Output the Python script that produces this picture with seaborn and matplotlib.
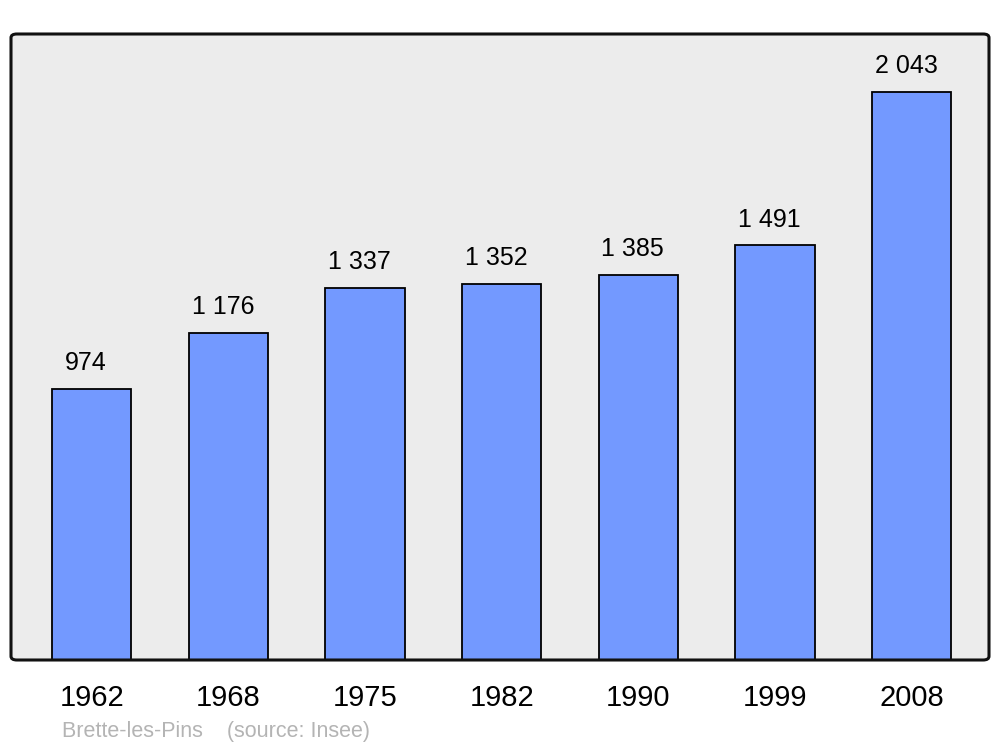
import pandas as pd
import seaborn as sns
import matplotlib.pyplot as plt
from matplotlib.patches import FancyBboxPatch

years = ['1962', '1968', '1975', '1982', '1990', '1999', '2008']
population = [974, 1176, 1337, 1352, 1385, 1491, 2043]
footer = 'Brette-les-Pins    (source: Insee)'

df = pd.DataFrame({'year': years, 'population': population})

sns.set_theme(style='white')
plt.rcParams['font.family'] = ['Liberation Sans', 'DejaVu Sans']

fig = plt.figure(figsize=(10, 7.47), dpi=100)
ax = fig.add_axes([0.011, 1 - 660 / 747, 0.978, 626 / 747])
ax.set_facecolor('#ececec')

sns.barplot(data=df, x='year', y='population', color='#7399ff', saturation=1,
            width=0.58, edgecolor='black', linewidth=1.3, ax=ax)

# value labels above each bar (slightly left of centre, as in the original)
for i, v in enumerate(population):
    ax.annotate(f'{v:,}'.replace(',', ' '), (i, v), xytext=(-4, 18.5),
                textcoords='offset points', ha='center', va='center',
                fontsize=18, color='black')

ax.set_xlim(-0.59, 6.565)
ax.set_ylim(0, 2251)
ax.set_xlabel('')
ax.set_ylabel('')
ax.set_yticks([])
ax.tick_params(axis='x', length=0, pad=17, labelsize=21, labelcolor='black')

# rounded frame instead of spines
for s in ax.spines.values():
    s.set_visible(False)
frame = FancyBboxPatch((0, 0), 1, 1, boxstyle='round,pad=0,rounding_size=0.006',
                       transform=ax.transAxes, fill=False, edgecolor='#111111',
                       linewidth=2.2, clip_on=False, zorder=5)
ax.add_patch(frame)

fig.text(0.062, 1 - 731 / 747, footer, color='#b4b4b4', fontsize=15.5, va='center')

fig.savefig('out.png', dpi=100)
